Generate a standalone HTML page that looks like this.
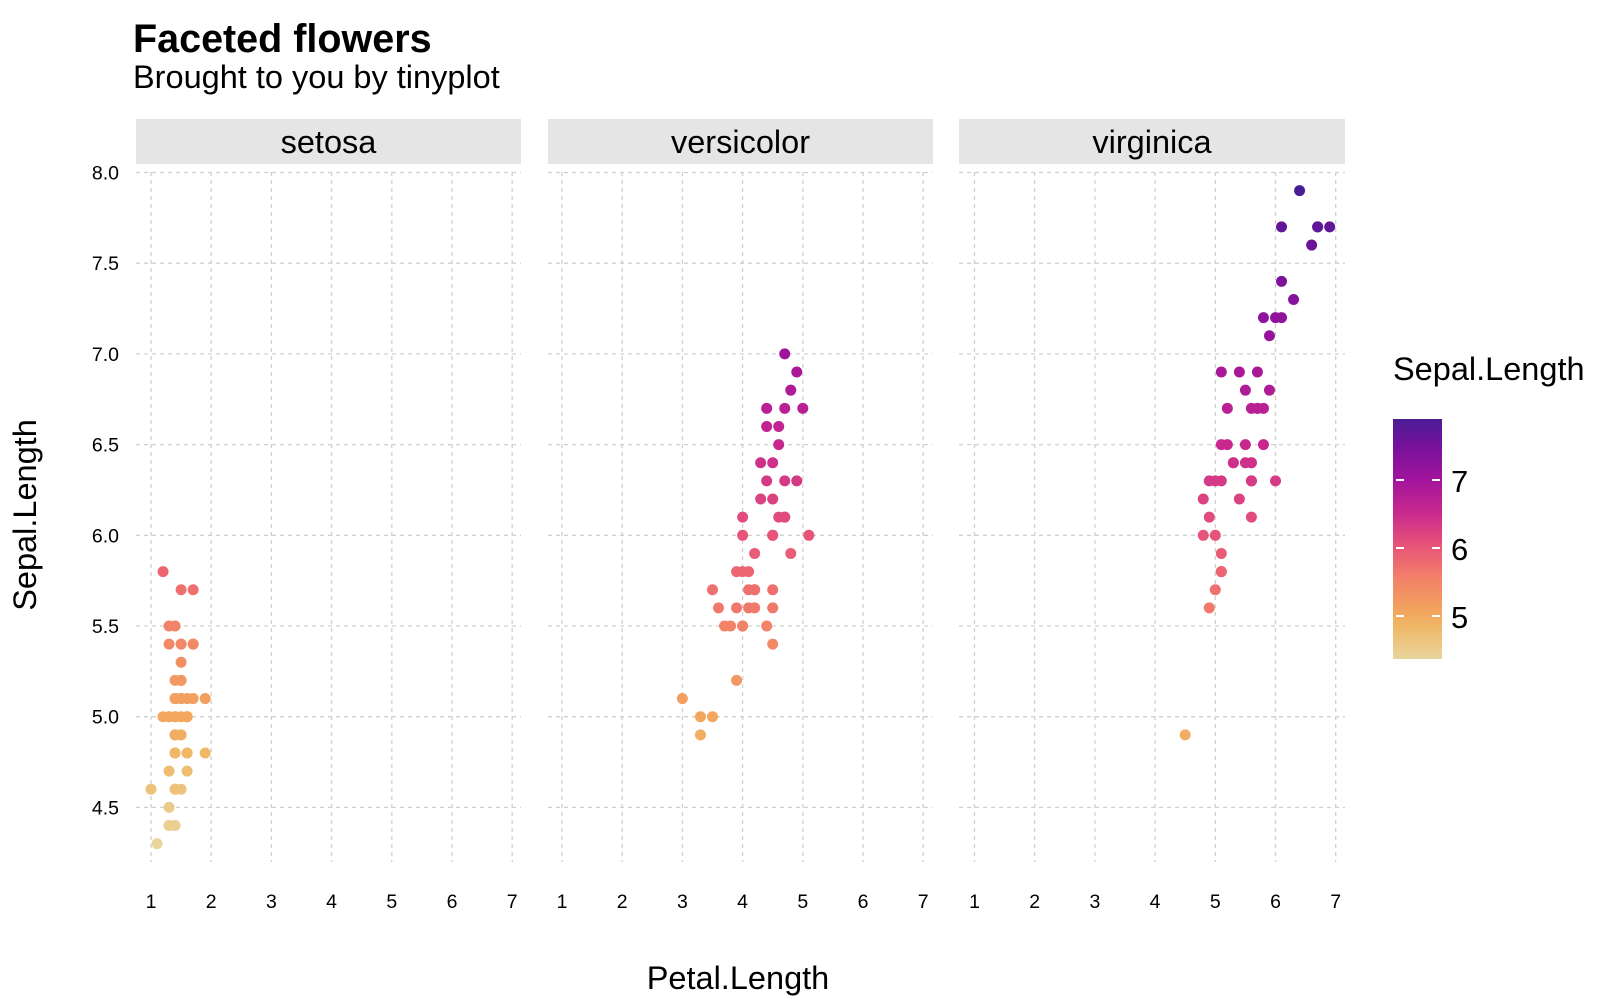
<!DOCTYPE html>
<html><head><meta charset="utf-8"><style>
body{margin:0;background:#fff;}
svg{display:block;font-family:"Liberation Sans",Arial,sans-serif;}
</style></head><body>
<svg id="s" width="1600" height="1000" xmlns="http://www.w3.org/2000/svg">
<defs><linearGradient id="g" x1="0" y1="1" x2="0" y2="0">
<stop offset="0" stop-color="#E9D59C"/><stop offset="0.139" stop-color="#EFB766"/><stop offset="0.194" stop-color="#F2A65E"/><stop offset="0.333" stop-color="#F28268"/><stop offset="0.472" stop-color="#E85479"/><stop offset="0.611" stop-color="#C8288E"/><stop offset="0.75" stop-color="#A0149C"/><stop offset="0.889" stop-color="#76119A"/><stop offset="1" stop-color="#4A1D94"/>
</linearGradient></defs>
<text x="133" y="52" font-size="39.5" font-weight="bold">Faceted flowers</text>
<text x="133" y="88" font-size="32.5">Brought to you by tinyplot</text>
<text x="738" y="989" font-size="32.5" text-anchor="middle">Petal.Length</text>
<text transform="translate(36,515) rotate(-90)" font-size="32.5" text-anchor="middle">Sepal.Length</text>
<text x="1393" y="380" font-size="32.5">Sepal.Length</text>
<rect x="1393" y="419" width="49" height="240" fill="url(#g)"/>
<g stroke="#fff" stroke-width="2">
<line x1="1396" y1="480" x2="1404" y2="480"/><line x1="1432" y1="480" x2="1440" y2="480"/>
<line x1="1396" y1="548" x2="1404" y2="548"/><line x1="1432" y1="548" x2="1440" y2="548"/>
<line x1="1396" y1="616" x2="1404" y2="616"/><line x1="1432" y1="616" x2="1440" y2="616"/>
</g>
<g font-size="31"><text x="1451" y="492">7</text><text x="1451" y="560">6</text><text x="1451" y="628">5</text></g>
<g id="p"></g>
</svg>
<script>
var NS="http://www.w3.org/2000/svg",g=document.getElementById("p");
function el(t,a,txt){var e=document.createElementNS(NS,t);for(var k in a)e.setAttribute(k,a[k]);if(txt!=null)e.textContent=txt;g.appendChild(e);return e;}
var stops=[[4.3,"#E9D59C"],[4.8,"#EFB766"],[5.0,"#F2A65E"],[5.5,"#F28268"],[6.0,"#E85479"],[6.5,"#C8288E"],[7.0,"#A0149C"],[7.5,"#76119A"],[7.9,"#4A1D94"]];
function hx(c){return [parseInt(c.substr(1,2),16),parseInt(c.substr(3,2),16),parseInt(c.substr(5,2),16)];}
function col(v){for(var i=0;i<stops.length-1;i++){if(v<=stops[i+1][0]){var t=(v-stops[i][0])/(stops[i+1][0]-stops[i][0]);var a=hx(stops[i][1]),b=hx(stops[i+1][1]);return "rgb("+a.map(function(x,j){return Math.round(x+(b[j]-x)*t)}).join(",")+")";}}return stops[stops.length-1][1];}
function Y(v){return 172.5+(8-v)*181.4;}
var panels=[["setosa",136,521,151],["versicolor",548,933,562],["virginica",959,1345,974.5]];
var d=[
"5.1 1.4,4.9 1.4,4.7 1.3,4.6 1.5,5.0 1.4,5.4 1.7,4.6 1.4,5.0 1.5,4.4 1.4,4.9 1.5,5.4 1.5,4.8 1.6,4.8 1.4,4.3 1.1,5.8 1.2,5.7 1.5,5.4 1.3,5.1 1.4,5.7 1.7,5.1 1.5,5.4 1.7,5.1 1.5,4.6 1.0,5.1 1.7,4.8 1.9,5.0 1.6,5.0 1.6,5.2 1.5,5.2 1.4,4.7 1.6,4.8 1.6,5.4 1.5,5.2 1.5,5.5 1.4,4.9 1.5,5.0 1.2,5.5 1.3,4.9 1.4,4.4 1.3,5.1 1.5,5.0 1.3,4.5 1.3,4.4 1.3,5.0 1.6,5.1 1.9,4.8 1.4,5.1 1.6,4.6 1.4,5.3 1.5,5.0 1.4",
"7.0 4.7,6.4 4.5,6.9 4.9,5.5 4.0,6.5 4.6,5.7 4.5,6.3 4.7,4.9 3.3,6.6 4.6,5.2 3.9,5.0 3.5,5.9 4.2,6.0 4.0,6.1 4.7,5.6 3.6,6.7 4.4,5.6 4.5,5.8 4.1,6.2 4.5,5.6 3.9,5.9 4.8,6.1 4.0,6.3 4.9,6.1 4.7,6.4 4.3,6.6 4.4,6.8 4.8,6.7 5.0,6.0 4.5,5.7 3.5,5.5 3.8,5.5 3.7,5.8 3.9,6.0 5.1,5.4 4.5,6.0 4.5,6.7 4.7,6.3 4.4,5.6 4.1,5.5 4.0,5.5 4.4,6.1 4.6,5.8 4.0,5.0 3.3,5.6 4.2,5.7 4.2,5.7 4.2,6.2 4.3,5.1 3.0,5.7 4.1",
"6.3 6.0,5.8 5.1,7.1 5.9,6.3 5.6,6.5 5.8,7.6 6.6,4.9 4.5,7.3 6.3,6.7 5.8,7.2 6.1,6.5 5.1,6.4 5.3,6.8 5.5,5.7 5.0,5.8 5.1,6.4 5.3,6.5 5.5,7.7 6.7,7.7 6.9,6.0 5.0,6.9 5.7,5.6 4.9,7.7 6.7,6.3 4.9,6.7 5.7,7.2 6.0,6.2 4.8,6.1 4.9,6.4 5.6,7.2 5.8,7.4 6.1,7.9 6.4,6.4 5.6,6.3 5.1,6.1 5.6,7.7 6.1,6.3 5.6,6.4 5.5,6.0 4.8,6.9 5.4,6.7 5.6,6.9 5.1,5.8 5.1,6.8 5.9,6.7 5.7,6.7 5.2,6.3 5.0,6.5 5.2,6.2 5.4,5.9 5.1"];
panels.forEach(function(p,i){
 el("rect",{x:p[1],y:119,width:p[2]-p[1],height:45,fill:"#e5e5e5"});
 el("text",{x:(p[1]+p[2])/2,y:153,"font-size":32.5,"text-anchor":"middle"},p[0]);
 for(var v=4.5;v<=8.01;v+=0.5){var y=Y(v);el("line",{x1:p[1],x2:p[2],y1:y,y2:y,stroke:"#d0d0d0","stroke-dasharray":"4 4","stroke-width":1.3});
  if(i==0)el("text",{x:119,y:y+7,"font-size":19.5,"text-anchor":"end"},v.toFixed(1));}
 for(var k=1;k<=7;k++){var x=p[3]+(k-1)*60.2;el("line",{x1:x,x2:x,y1:172,y2:862,stroke:"#d0d0d0","stroke-dasharray":"4 4","stroke-width":1.3});
  el("text",{x:x,y:908,"font-size":19.5,"text-anchor":"middle"},k);}
 d[i].split(",").forEach(function(s){var a=s.split(" ").map(Number);
  el("circle",{cx:p[3]+(a[1]-1)*60.2,cy:Y(a[0]),r:5.5,fill:col(a[0])});});
});
</script>
</body></html>
